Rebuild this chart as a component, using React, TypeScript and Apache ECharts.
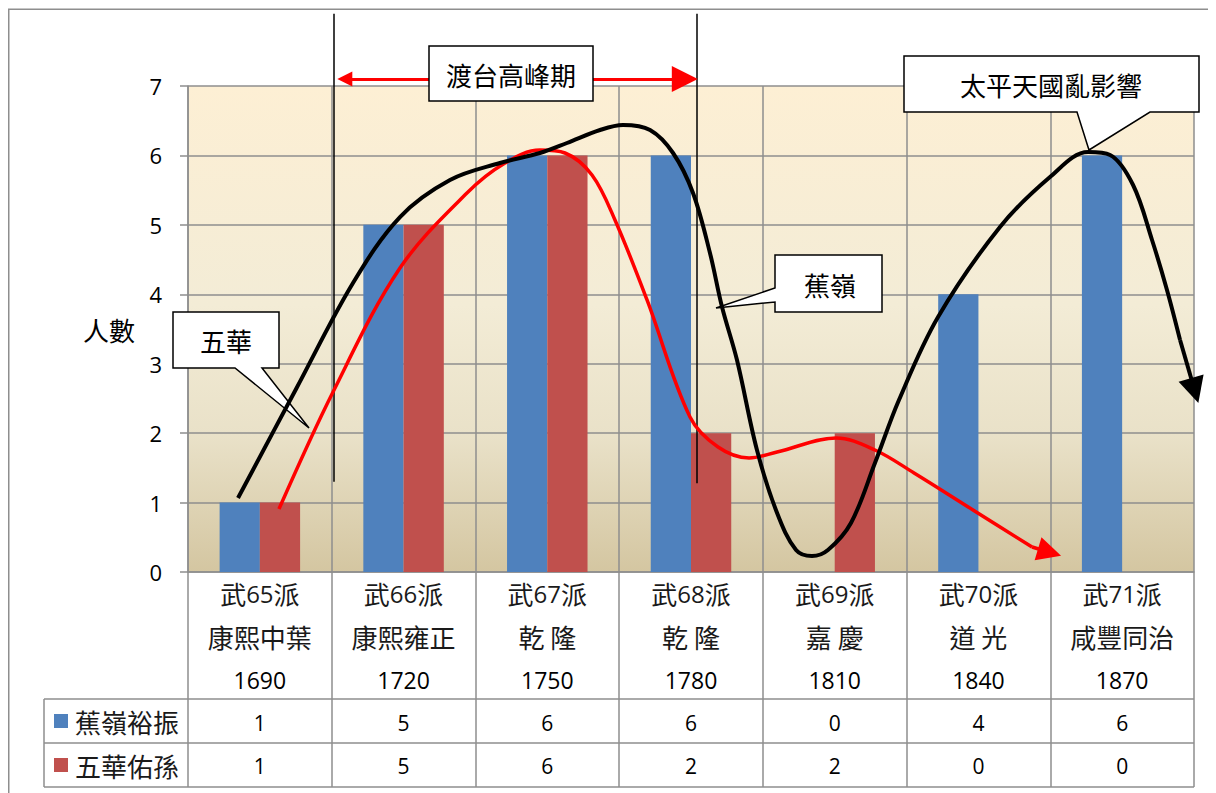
import React, { useEffect, useRef } from 'react';
import * as echarts from 'echarts';

// ---------- data ----------
const sects = ['武65派', '武66派', '武67派', '武68派', '武69派', '武70派', '武71派'];
const eras = ['康熙中葉', '康熙雍正', '乾 隆', '乾 隆', '嘉 慶', '道 光', '咸豐同治'];
const years = ['1690', '1720', '1750', '1780', '1810', '1840', '1870'];
const seriesNames = ['蕉嶺裕振', '五華佑孫'];
const jiaolingValues = [1, 5, 6, 6, 0, 4, 6];
const wuhuaValues = [1, 5, 6, 2, 2, 0, 0];
const yAxisTitle = '人數';

// hand-drawn trend annotations, in data units (x: 0..7 across the categories, y: persons)
const jiaolingTrend = [
  [0.348, 1.066], [0.752, 2.636], [1.148, 4.162], [1.475, 5.113], [1.823, 5.646],
  [2.171, 5.891], [2.449, 6.035], [2.637, 6.179], [2.867, 6.366], [3.027, 6.438],
  [3.215, 6.366], [3.375, 6.035], [3.514, 5.459], [3.632, 4.595], [3.716, 3.817],
  [3.82, 3.053], [3.959, 1.757], [4.099, 0.85], [4.231, 0.317], [4.342, 0.23],
  [4.453, 0.317], [4.613, 0.706], [4.78, 1.57], [4.947, 2.477], [5.219, 3.673],
  [5.65, 4.969], [5.998, 5.689], [6.263, 6.049], [6.416, 6.006], [6.576, 5.574],
  [6.708, 4.782], [6.812, 4.062], [6.903, 3.341]
];
const jiaolingArrow = [[6.903, 3.341], [7.005, 2.614]];
const wuhuaTrend = [
  [0.633, 0.907], [1.009, 2.593], [1.475, 4.378], [1.941, 5.459], [2.206, 5.891],
  [2.449, 6.078], [2.623, 6.035], [2.811, 5.718], [2.971, 5.07], [3.194, 3.918],
  [3.493, 2.232], [3.688, 1.8], [3.904, 1.642], [4.099, 1.728], [4.509, 1.93],
  [4.78, 1.757], [5.052, 1.426], [5.462, 0.893], [5.873, 0.36]
];
const wuhuaArrow = [[5.873, 0.36], [5.995, 0.285]];
const peakStart = 1.016;
const peakEnd = 3.542;
const peakLabel = '渡台高峰期';
const calloutWuhua = '五華';
const calloutJiaoling = '蕉嶺';
const calloutTaiping = '太平天國亂影響';

const CJK = "'Noto Sans CJK TC', 'Noto Sans CJK SC', sans-serif";
const NUM = "'Open Sans', 'Noto Sans CJK TC', sans-serif";
const GRID = '#8e8e8e';

export default function App() {
  const ref = useRef<HTMLDivElement>(null);

  useEffect(() => {
    if (!ref.current) return;
    const chart = echarts.init(ref.current, null, { renderer: 'svg' });

    const gridLeft = 180, gridTop = 78, gridW = 1006, gridH = 486;
    const tableTop = 691, rowH = 44;
    const tableLeft = 36;
    const tableBottom = tableTop + 2 * rowH;

    const labelFormatter = (_v: string, i: number) => {
      const sect = sects[i].replace(/(\d+)/, '}{d|$1}{c|');
      return `{c|${sect}}\n{c|${eras[i]}}\n{y|${years[i]}}\n{v|${jiaolingValues[i]}}\n{v|${wuhuaValues[i]}}`;
    };

    const callout = (pts: number[][], text: string, tx: number, ty: number, z: number) => ({
      type: 'group',
      z,
      children: [
        { type: 'polygon', z, shape: { points: pts }, style: { fill: '#fff', stroke: '#000', lineWidth: 1.5 } },
        {
          type: 'text', z, x: tx, y: ty,
          style: { text, fontSize: 26, fontFamily: CJK, fill: '#000', align: 'center', verticalAlign: 'middle' }
        }
      ]
    });

    const option: any = {
      animation: false,
      grid: {
        left: gridLeft, top: gridTop, width: gridW, height: gridH,
        show: true, borderWidth: 0,
        backgroundColor: {
          type: 'linear', x: 0, y: 0, x2: 0, y2: 1,
          colorStops: [
            { offset: 0, color: '#FDEFD4' },
            { offset: 0.45, color: '#F3ECD6' },
            { offset: 0.72, color: '#E9E1C8' },
            { offset: 1, color: '#D4C6A1' }
          ]
        }
      },
      xAxis: [
        {
          type: 'category',
          data: sects,
          boundaryGap: true,
          axisLine: { show: true, lineStyle: { color: GRID, width: 1.5 } },
          axisTick: { show: true, interval: 0, length: tableBottom - (gridTop + gridH), lineStyle: { color: GRID, width: 1.5 } },
          splitLine: { show: true, interval: 0, lineStyle: { color: GRID, width: 1.5 } },
          axisLabel: {
            interval: 0,
            margin: 0,
            formatter: labelFormatter,
            rich: {
              c: { fontSize: 26, fontFamily: CJK, color: '#1a1a1a', lineHeight: 43 },
              d: { fontSize: 24, fontFamily: NUM, color: '#1a1a1a', lineHeight: 43 },
              y: { fontSize: 23, fontFamily: NUM, color: '#000', lineHeight: 43 },
              v: { fontSize: 21, fontFamily: NUM, color: '#000', lineHeight: 43 }
            }
          }
        },
        { type: 'value', min: 0, max: 7, show: false }
      ],
      yAxis: {
        type: 'value', min: 0, max: 7, interval: 1,
        name: yAxisTitle,
        nameLocation: 'middle',
        nameRotate: 0,
        nameGap: 53,
        nameTextStyle: { fontSize: 26, fontFamily: CJK, color: '#000' },
        axisLine: { show: true, lineStyle: { color: GRID, width: 1.5 } },
        axisTick: { show: true, length: 8, lineStyle: { color: GRID, width: 1.5 } },
        splitLine: { show: true, lineStyle: { color: GRID, width: 1.5 } },
        axisLabel: { fontSize: 22, fontFamily: NUM, color: '#000', margin: 26 }
      },
      series: [
        {
          type: 'bar', name: seriesNames[0], data: jiaolingValues,
          itemStyle: { color: '#4F81BD' }, barGap: '0%', barCategoryGap: '44%', z: 2
        },
        {
          type: 'bar', name: seriesNames[1], data: wuhuaValues,
          itemStyle: { color: '#C0504D' }, barGap: '0%', barCategoryGap: '44%', z: 2
        },
        {
          type: 'line', xAxisIndex: 1, yAxisIndex: 0, data: wuhuaTrend, smooth: 0.35,
          showSymbol: false, symbol: 'none', clip: false, z: 5,
          lineStyle: { color: '#FF0000', width: 3.5 }
        },
        {
          type: 'line', xAxisIndex: 1, yAxisIndex: 0, data: jiaolingTrend, smooth: 0.35,
          showSymbol: false, symbol: 'none', clip: false, z: 6,
          lineStyle: { color: '#000', width: 4 }
        },
        {
          type: 'lines', coordinateSystem: 'cartesian2d', xAxisIndex: 1, yAxisIndex: 0,
          clip: false, z: 6,
          symbol: ['none', 'triangle'], symbolSize: [16, 26],
          lineStyle: { color: '#000', width: 4, opacity: 1, curveness: 0 },
          data: [{ coords: jiaolingArrow }]
        },
        {
          type: 'lines', coordinateSystem: 'cartesian2d', xAxisIndex: 1, yAxisIndex: 0,
          clip: false, z: 5,
          symbol: ['none', 'triangle'], symbolSize: [16, 24],
          lineStyle: { color: '#FF0000', width: 3.5, opacity: 1, curveness: 0 },
          data: [{ coords: wuhuaArrow }]
        },
        {
          type: 'lines', coordinateSystem: 'cartesian2d', xAxisIndex: 1, yAxisIndex: 0,
          clip: false, z: 4,
          symbol: ['none', 'none'],
          lineStyle: { color: '#000', width: 1.5, opacity: 1, curveness: 0 },
          data: [
            { coords: [[peakStart, 8.04], [peakStart, 1.3]] },
            { coords: [[peakEnd, 8.04], [peakEnd, 1.28]] }
          ]
        },
        {
          type: 'lines', coordinateSystem: 'cartesian2d', xAxisIndex: 1, yAxisIndex: 0,
          clip: false, z: 4,
          symbol: ['triangle', 'triangle'], symbolSize: [15, 26],
          lineStyle: { color: '#FF0000', width: 3, opacity: 1, curveness: 0 },
          data: [{ coords: [[peakStart + 0.075, 7.1], [peakEnd - 0.085, 7.1]] }]
        }
      ],
      graphic: [
        // outer chart border
        { type: 'rect', z: 0, shape: { x: 0.75, y: 1.25, width: 1240, height: 820 }, style: { fill: 'none', stroke: GRID, lineWidth: 1.5 } },
        // data table frame
        { type: 'line', z: 1, shape: { x1: tableLeft, y1: tableTop, x2: gridLeft + gridW, y2: tableTop }, style: { stroke: GRID, lineWidth: 1.5 } },
        { type: 'line', z: 1, shape: { x1: tableLeft, y1: tableTop + rowH, x2: gridLeft + gridW, y2: tableTop + rowH }, style: { stroke: GRID, lineWidth: 1.5 } },
        { type: 'line', z: 1, shape: { x1: tableLeft, y1: tableBottom, x2: gridLeft + gridW, y2: tableBottom }, style: { stroke: GRID, lineWidth: 1.5 } },
        { type: 'line', z: 1, shape: { x1: tableLeft, y1: tableTop, x2: tableLeft, y2: tableBottom }, style: { stroke: GRID, lineWidth: 1.5 } },
        // legend keys inside the table
        ...seriesNames.flatMap((name, k) => {
          const cy = tableTop + rowH * k + rowH / 2;
          return [
            { type: 'rect', z: 10, shape: { x: 46, y: cy - 7, width: 14, height: 14 }, style: { fill: k === 0 ? '#4F81BD' : '#C0504D' } },
            { type: 'text', z: 10, x: 67, y: cy, style: { text: name, fontSize: 26, fontFamily: CJK, fill: '#1a1a1a', align: 'left', verticalAlign: 'middle' } }
          ];
        }),
        // callouts
        callout([[165, 304], [271, 304], [271, 360], [254, 360], [301, 420], [227, 360], [165, 360]], calloutWuhua, 218, 332, 3),
        callout([[767, 247], [874, 247], [874, 304], [767, 304], [767, 294], [708, 300], [767, 280]], calloutJiaoling, 822, 276, 3),
        callout([[896, 48], [1191, 48], [1191, 104], [1142, 104], [1081, 142], [1069, 104], [896, 104]], calloutTaiping, 1043, 76, 3),
        callout([[421, 38], [585, 38], [585, 93], [421, 93]], peakLabel, 503, 66, 20)
      ]
    };

    chart.setOption(option);
    return () => chart.dispose();
  }, []);

  return <div ref={ref} style={{ width: 1208, height: 785 }} />;
}
